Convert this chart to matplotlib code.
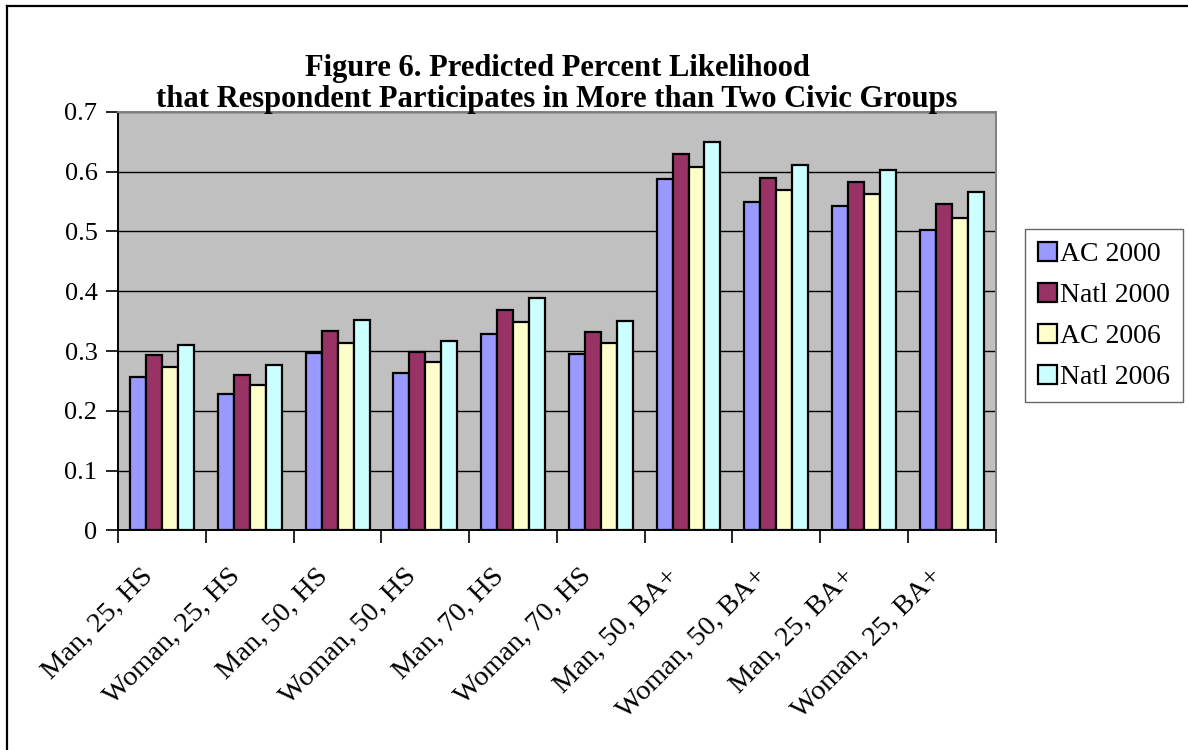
import numpy as np
import matplotlib
matplotlib.use("Agg")
import matplotlib.pyplot as plt
import matplotlib.transforms as mtransforms
from matplotlib.lines import Line2D

plt.rcParams['font.family'] = ['Liberation Serif', 'DejaVu Serif']

# Groups and predicted likelihoods per series
groups = ["Man, 25, HS", "Woman, 25, HS", "Man, 50, HS", "Woman, 50, HS", "Man, 70, HS",
          "Woman, 70, HS", "Man, 50, BA+", "Woman, 50, BA+", "Man, 25, BA+", "Woman, 25, BA+"]
series = ["AC 2000", "Natl 2000", "AC 2006", "Natl 2006"]
ac_2000 = [0.257, 0.228, 0.296, 0.263, 0.329, 0.295, 0.588, 0.549, 0.542, 0.503]
natl_2000 = [0.293, 0.260, 0.333, 0.298, 0.368, 0.332, 0.629, 0.590, 0.583, 0.545]
ac_2006 = [0.274, 0.243, 0.313, 0.281, 0.349, 0.313, 0.608, 0.570, 0.563, 0.523]
natl_2006 = [0.310, 0.277, 0.352, 0.316, 0.389, 0.351, 0.649, 0.611, 0.603, 0.566]
colors = ["#9999FF", "#993366", "#FFFFCC", "#CCFFFF"]

values = [ac_2000, natl_2000, ac_2006, natl_2006]

W, H = 1188, 750
fig = plt.figure(figsize=(W / 100, H / 100), dpi=100)
ax = fig.add_axes([0.0996, 0.2927, 0.7384, 0.5583])
ax.set_facecolor("#C0C0C0")

x = np.arange(len(groups))
w = 0.182
for i, (name, vals, col) in enumerate(zip(series, values, colors)):
    ax.bar(x + (i - 1.5) * w, vals, width=w, color=col, edgecolor="black",
           linewidth=1.6, label=name, zorder=3)

ax.set_xlim(-0.5, len(groups) - 0.5)
ax.set_ylim(0, 0.7)
ax.set_yticks(np.arange(0, 0.71, 0.1))
ax.set_yticklabels(["0", "0.1", "0.2", "0.3", "0.4", "0.5", "0.6", "0.7"], fontsize=19)
ax.yaxis.grid(True, color="black", linewidth=1.0, zorder=1)
ax.set_axisbelow(True)

# labels at group centres, tick marks at group boundaries
ax.set_xticks(x)
ax.set_xticklabels(groups, rotation=45, ha="right", rotation_mode="anchor", fontsize=20.5)
ax.tick_params(axis="x", which="major", length=0, pad=24)
shift = mtransforms.ScaledTranslation(-0.22, 0, fig.dpi_scale_trans)
for lbl in ax.get_xticklabels():
    lbl.set_transform(lbl.get_transform() + shift)
ax.set_xticks(np.arange(-0.5, len(groups)), minor=True)
ax.tick_params(axis="x", which="minor", length=9, width=1.2, direction="out")
ax.tick_params(axis="y", length=9, width=1.2, direction="out", pad=6)

for s in ["left", "bottom"]:
    ax.spines[s].set_color("black")
    ax.spines[s].set_linewidth(1.4)
for s in ["top", "right"]:
    ax.spines[s].set_color("#808080")
    ax.spines[s].set_linewidth(1.4)

# two-line bold title
fig.text(557 / W, 1 - 76 / H, "Figure 6. Predicted Percent Likelihood",
         ha="center", va="baseline", fontsize=22, fontweight="bold")
fig.text(557 / W, 1 - 107 / H, "that Respondent Participates in More than Two Civic Groups",
         ha="center", va="baseline", fontsize=22, fontweight="bold")

leg = fig.legend(loc="upper left", bbox_to_anchor=(1025 / W, 1 - 229 / H),
                 fontsize=20, frameon=True, fancybox=False, shadow=False,
                 handlelength=0.7, handleheight=0.7, handletextpad=0.12,
                 labelspacing=0.56, borderpad=0.45, borderaxespad=0)
leg.get_frame().set_edgecolor("#404040")
leg.get_frame().set_linewidth(1.0)

# page border lines
fig.add_artist(Line2D([7 / W, 1.0], [1 - 5.5 / H, 1 - 5.5 / H],
                      transform=fig.transFigure, color="black", linewidth=1.6))
fig.add_artist(Line2D([7 / W, 7 / W], [0.0, 1 - 5.5 / H],
                      transform=fig.transFigure, color="black", linewidth=1.6))

fig.savefig("out.png", dpi=100)
